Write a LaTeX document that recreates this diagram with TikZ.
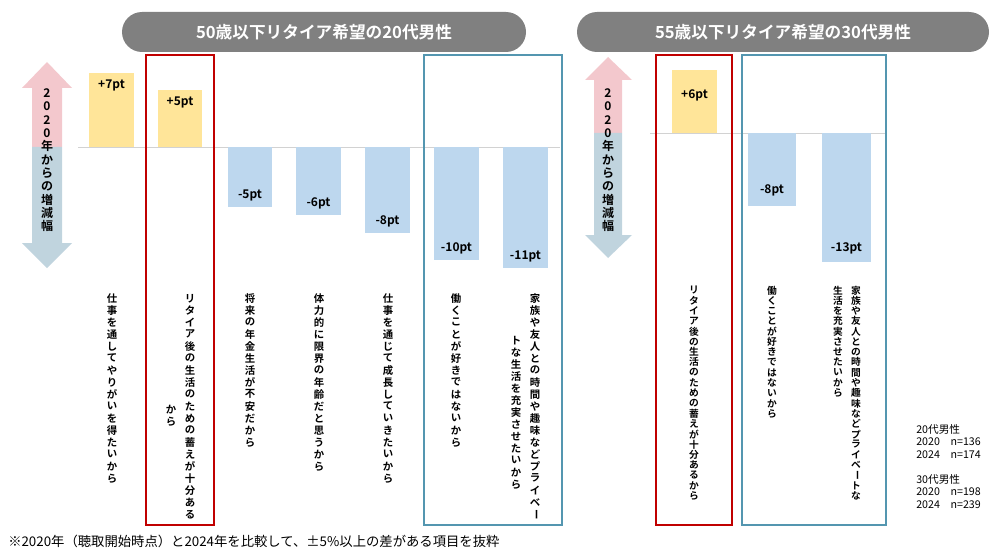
\documentclass[tikz,border=0pt]{standalone}
\usepackage{fontspec}
\setmainfont{Noto Sans CJK JP}[BoldFont={Noto Sans CJK JP Bold}]
\usepackage{graphicx}
\definecolor{cbarup}{RGB}{255,229,153}
\definecolor{cbardn}{RGB}{189,215,238}
\definecolor{cpill}{RGB}{128,128,128}
\definecolor{carrup}{RGB}{243,200,205}
\definecolor{carrdn}{RGB}{192,212,222}
\definecolor{cred}{RGB}{192,0,0}
\definecolor{cblue}{RGB}{84,150,176}
\definecolor{cbase}{RGB}{210,210,210}
\newlength\vstep
\setlength\vstep{9pt}
\ExplSyntaxOn
\NewDocumentCommand\vtext{m}{\vbox{\offinterlineskip
  \tl_map_inline:nn{#1}{\vbox to \vstep{\vfil\hbox to 1.2em{\hss
  \tl_if_eq:nnTF{##1}{ー}{\rotatebox[origin=c]{-90}{ー}}{##1}\hss}\vfil}}}}
\ExplSyntaxOff
\tikzset{
  pill/.style={fill=cpill,rounded corners=15pt},
  pilltext/.style={text=white,font=\fontsize{12.5}{15}\selectfont\bfseries},
  barup/.style={fill=cbarup},
  bardn/.style={fill=cbardn},
  barlbl/.style={font=\fontsize{9}{10}\selectfont\bfseries,inner sep=1pt},
  lbl/.style={font=\fontsize{7.8}{10}\selectfont\bfseries,anchor=north,inner sep=0pt},
  redbox/.style={draw=cred,line width=2pt},
  bluebox/.style={draw=cblue,line width=2pt},
  note/.style={font=\fontsize{8}{9.5}\selectfont,anchor=north west,inner sep=0pt,align=left},
}
\begin{document}
\begin{tikzpicture}[x=0.75pt,y=-0.75pt]
  \useasboundingbox (0,0) rectangle (1008,560);
  % headers
  \path[pill] (122,12) rectangle (526,52);
  \node[pilltext] (head1) at (324,32) {50歳以下リタイア希望の20代男性};
  \path[pill] (577,12) rectangle (989,52);
  \node[pilltext] (head2) at (783,32) {55歳以下リタイア希望の30代男性};

  % arrows
  \fill[carrup] (47,62) -- (72,88) -- (62,88) -- (62,147) -- (32,147) -- (32,88) -- (22,88) -- cycle;
  \fill[carrdn] (32,147) -- (62,147) -- (62,243) -- (72,243) -- (47,268) -- (22,243) -- (32,243) -- cycle;
  \setlength\vstep{10pt}
  \node[lbl,font=\fontsize{9}{10}\selectfont\bfseries] (axis1) at (47,86) {\vtext{2020年からの増減幅}};
  \fill[carrup] (608,57) -- (632,80) -- (622,80) -- (622,133) -- (594,133) -- (594,80) -- (585,80) -- cycle;
  \fill[carrdn] (594,133) -- (622,133) -- (622,235) -- (632,235) -- (608,258) -- (585,235) -- (594,235) -- cycle;
  \node[lbl,font=\fontsize{9}{10}\selectfont\bfseries] (axis2) at (608,86) {\vtext{2020年からの増減幅}};

  % left chart
  \draw[cbase] (78,147) -- (560,147);
  \fill[barup] (89,73) rectangle (134,147);
  \node[barlbl,anchor=north] (b1) at (111.5,78) {+7pt};
  \fill[barup] (158,90) rectangle (202,147);
  \node[barlbl,anchor=north] (b2) at (180,95) {+5pt};
  \fill[bardn] (228,147) rectangle (272,207);
  \node[barlbl,anchor=south] (b3) at (250,203) {-5pt};
  \fill[bardn] (296,147) rectangle (341,215);
  \node[barlbl,anchor=south] (b4) at (318.5,211) {-6pt};
  \fill[bardn] (365,147) rectangle (410,233);
  \node[barlbl,anchor=south] (b5) at (387.5,229) {-8pt};
  \fill[bardn] (434,147) rectangle (479,260);
  \node[barlbl,anchor=south] (b6) at (456.5,256) {-10pt};
  \fill[bardn] (503,147) rectangle (548,268);
  \node[barlbl,anchor=south] (b7) at (525.5,264) {-11pt};
  \draw[redbox] (146,55) rectangle (214,525);
  \draw[bluebox] (424,55) rectangle (562,525);

  \setlength\vstep{9pt}
  \node[lbl] (l1) at (112,292) {\vtext{仕事を通してやりがいを得たいから}};
  \node[lbl] (l2a) at (190,292) {\vtext{リタイア後の生活のための蓄えが十分ある}};
  \node[lbl,anchor=center] (l2b) at (171,416) {\vtext{から}};
  \node[lbl] (l3) at (250,292) {\vtext{将来の年金生活が不安だから}};
  \node[lbl] (l4) at (319,292) {\vtext{体力的に限界の年齢だと思うから}};
  \node[lbl] (l5) at (388,292) {\vtext{仕事を通じて成長していきたいから}};
  \node[lbl] (l6) at (456,292) {\vtext{働くことが好きではないから}};
  \node[lbl] (l7a) at (535,292) {\vtext{家族や友人との時間や趣味などプライベー}};
  \node[lbl] (l7b) at (516,334) {\vtext{トな生活を充実させたいから}};

  % right chart
  \draw[cbase] (650,133) -- (885,133);
  \fill[barup] (672,70) rectangle (717,133);
  \node[barlbl,anchor=north] (c1) at (694.5,88) {+6pt};
  \fill[bardn] (748,133) rectangle (796,206);
  \node[barlbl,anchor=south] (c2) at (772,198) {-8pt};
  \fill[bardn] (822,133) rectangle (871,262);
  \node[barlbl,anchor=south] (c3) at (846.5,256) {-13pt};
  \draw[redbox] (656,55) rectangle (732,525);
  \draw[bluebox] (742,55) rectangle (886,525);

  \setlength\vstep{7.7pt}
  \node[lbl,font=\fontsize{7.3}{9}\selectfont\bfseries] (m1) at (694,285) {\vtext{リタイア後の生活のための蓄えが十分あるから}};
  \node[lbl,font=\fontsize{7.3}{9}\selectfont\bfseries] (m2) at (772,285) {\vtext{働くことが好きではないから}};
  \node[lbl,font=\fontsize{7.3}{9}\selectfont\bfseries] (m3a) at (856,285) {\vtext{家族や友人との時間や趣味などプライベートな}};
  \node[lbl,font=\fontsize{7.3}{9}\selectfont\bfseries] (m3b) at (838,285) {\vtext{生活を充実させたいから}};

  % notes
  \node[note] (n1) at (916,424) {20代男性\\2020\quad n=136\\2024\quad n=174};
  \node[note] (n2) at (916,474) {30代男性\\2020\quad n=198\\2024\quad n=239};
  \node[note,font=\fontsize{10}{11}\selectfont] (foot) at (8,535) {※2020年（聴取開始時点）と2024年を比較して、±5\%以上の差がある項目を抜粋};
\end{tikzpicture}
\end{document}
